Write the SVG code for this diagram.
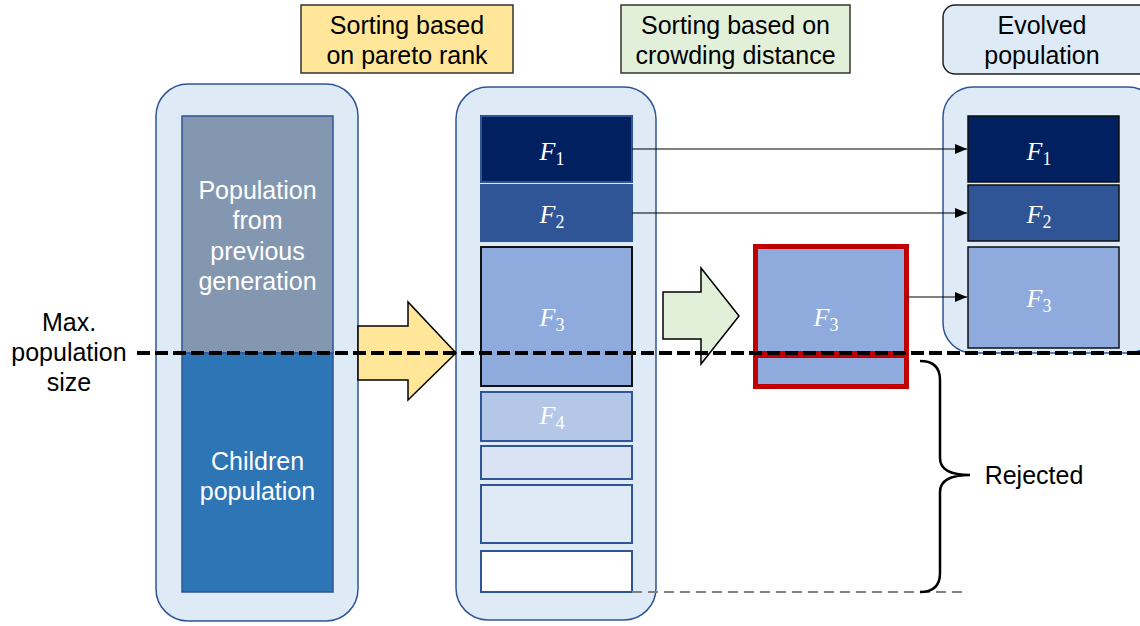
<svg xmlns="http://www.w3.org/2000/svg" width="1140" height="626" viewBox="0 0 1140 626">
  <defs>
    <marker id="arrowhead" viewBox="0 0 12 10" refX="12" refY="5" markerWidth="12" markerHeight="10" markerUnits="userSpaceOnUse" orient="auto">
      <path d="M0,0 L12,5 L0,10 Z" fill="#000"/>
    </marker>
    <style>
      .lbl { font-family: "Liberation Sans", Arial, sans-serif; font-size: 25px; text-anchor: middle; }
      .dark { fill: #000; }
      .light { fill: #fff; }
      .pool { fill: #deebf7; stroke: #2f5597; stroke-width: 1.5; }
      .front { stroke: #2f5597; stroke-width: 2; }
      .f1 { fill: #002060; }
      .f2 { fill: #2f5597; }
      .f3 { fill: #8faadc; }
      .f4 { fill: #b4c7e7; }
      .math { font-family: "Liberation Serif", "Times New Roman", serif; fill: #fff; text-anchor: middle; font-size: 26px; }
      .math .it { font-style: italic; }
      .math .sub { font-size: 18px; }
      .conn { stroke: #000; stroke-width: 1.2; fill: none; }
    </style>
  </defs>

  <rect width="1140" height="626" fill="#fff"/>

  <!-- step headers -->
  <g id="hdr-pareto">
    <rect x="301" y="5" width="212" height="68" fill="#ffe699" stroke="#333" stroke-width="1.5"/>
    <text class="lbl dark" x="407" y="34">Sorting based</text>
    <text class="lbl dark" x="407" y="64">on pareto rank</text>
  </g>
  <g id="hdr-crowding">
    <rect x="621" y="5" width="229" height="68" fill="#e2f0d9" stroke="#333" stroke-width="1.5"/>
    <text class="lbl dark" x="735.5" y="34">Sorting based on</text>
    <text class="lbl dark" x="735.5" y="64">crowding distance</text>
  </g>
  <g id="hdr-evolved">
    <rect x="943" y="5" width="210" height="69" rx="12" fill="#deebf7" stroke="#222" stroke-width="1.5"/>
    <text class="lbl dark" x="1042" y="34">Evolved</text>
    <text class="lbl dark" x="1042" y="64">population</text>
  </g>

  <!-- combined population -->
  <g id="combined">
    <rect class="pool" x="156" y="84" width="202" height="537" rx="32"/>
    <rect x="182" y="116" width="151" height="237" fill="#8497b0" stroke="#2f5597" stroke-width="1.5"/>
    <rect x="182" y="353" width="151" height="239" fill="#2e75b6" stroke="#2f5597" stroke-width="1.5"/>
    <text class="lbl light" x="257.5" y="199">Population</text>
    <text class="lbl light" x="257.5" y="229">from</text>
    <text class="lbl light" x="257.5" y="260">previous</text>
    <text class="lbl light" x="257.5" y="290">generation</text>
    <text class="lbl light" x="257.5" y="470">Children</text>
    <text class="lbl light" x="257.5" y="500">population</text>
  </g>

  <!-- fronts after non-dominated sorting -->
  <g id="ranked">
    <rect class="pool" x="456" y="87" width="200" height="533" rx="32"/>
    <rect class="f1 front" x="481" y="116" width="151" height="66"/>
    <rect class="f2 front" x="481" y="185" width="151" height="56"/>
    <rect class="f3" x="481" y="247" width="151" height="139" stroke="#111" stroke-width="2"/>
    <rect class="f4 front" x="481" y="392" width="151" height="49"/>
    <rect class="front" x="481" y="446" width="151" height="33" fill="#dae3f3"/>
    <rect class="front" x="481" y="485" width="151" height="58" fill="#deebf7"/>
    <rect class="front" x="481" y="551" width="151" height="41" fill="#fff"/>
    <text class="math" x="552" y="160"><tspan class="it">F</tspan><tspan class="sub" dy="5">1</tspan></text>
    <text class="math" x="552" y="223"><tspan class="it">F</tspan><tspan class="sub" dy="5">2</tspan></text>
    <text class="math" x="552" y="326"><tspan class="it">F</tspan><tspan class="sub" dy="5">3</tspan></text>
    <text class="math" x="552" y="424"><tspan class="it">F</tspan><tspan class="sub" dy="5">4</tspan></text>
  </g>

  <!-- partially accepted front -->
  <g id="split-front">
    <rect class="f3" x="755.5" y="246.5" width="151" height="107" stroke="#c00000" stroke-width="5"/>
    <rect class="f3" x="755.5" y="355.5" width="151" height="31" stroke="#c00000" stroke-width="5"/>
    <text class="math" x="826" y="326"><tspan class="it">F</tspan><tspan class="sub" dy="5">3</tspan></text>
  </g>

  <!-- next generation -->
  <g id="evolved">
    <rect class="pool" x="943" y="87" width="215" height="266" rx="30"/>
    <rect class="f1" x="968" y="116" width="151" height="66" stroke="#111" stroke-width="1.5"/>
    <rect class="f2" x="968" y="185" width="151" height="56" stroke="#111" stroke-width="1.5"/>
    <rect class="f3" x="968" y="247" width="151" height="101" stroke="#111" stroke-width="1.5"/>
    <text class="math" x="1039" y="160"><tspan class="it">F</tspan><tspan class="sub" dy="5">1</tspan></text>
    <text class="math" x="1039" y="223"><tspan class="it">F</tspan><tspan class="sub" dy="5">2</tspan></text>
    <text class="math" x="1039" y="307"><tspan class="it">F</tspan><tspan class="sub" dy="5">3</tspan></text>
  </g>

  <!-- block arrows between steps -->
  <g id="step-arrow-1">
    <path d="M358,326 L408,326 L408,302 L456,353 L408,400 L408,380 L358,380 Z" fill="#ffe699" stroke="#000" stroke-width="1.5"/>
  </g>
  <g id="step-arrow-2">
    <path d="M663,292 L701,292 L701,268 L739,316 L701,364 L701,339 L663,339 Z" fill="#e2f0d9" stroke="#000" stroke-width="1.5"/>
  </g>

  <!-- population size limit -->
  <g id="limit">
    <line x1="137" y1="353" x2="1140" y2="353" stroke="#000" stroke-width="4" stroke-dasharray="13,5"/>
    <text class="lbl dark" x="69" y="331">Max.</text>
    <text class="lbl dark" x="69" y="361">population</text>
    <text class="lbl dark" x="69" y="391">size</text>
  </g>

  <!-- connectors -->
  <g id="connectors">
    <line class="conn" x1="632" y1="149" x2="967" y2="149" marker-end="url(#arrowhead)"/>
    <line class="conn" x1="632" y1="213" x2="967" y2="213" marker-end="url(#arrowhead)"/>
    <line class="conn" x1="906" y1="297" x2="967" y2="297" marker-end="url(#arrowhead)"/>
    <line x1="632" y1="592" x2="966" y2="592" stroke="#808080" stroke-width="2" stroke-dasharray="10,6"/>
  </g>

  <!-- rejected individuals -->
  <g id="rejected">
    <path d="M920,361 Q940,361 940,380 L940,458 Q940,475 970,475 Q940,475 940,492 L940,573 Q940,592 920,592" fill="none" stroke="#000" stroke-width="2.5"/>
    <text class="lbl dark" x="1034" y="484">Rejected</text>
  </g>
</svg>
